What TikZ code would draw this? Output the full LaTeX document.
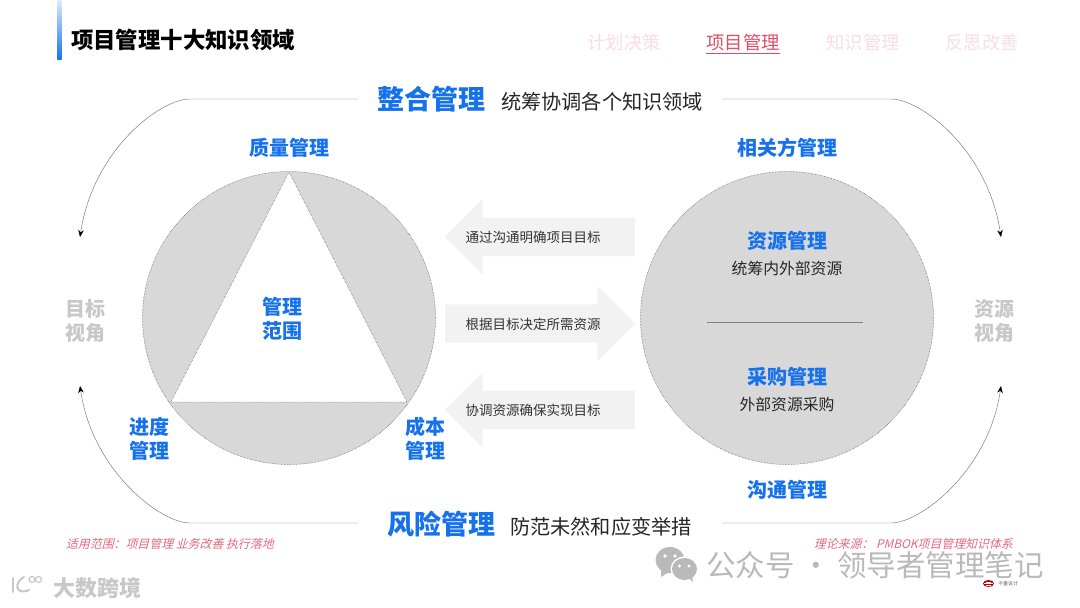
\documentclass[tikz,border=0pt]{standalone}
\usepackage{fontspec}
\setmainfont{Noto Sans CJK SC}
\usetikzlibrary{positioning,arrows.meta,shapes.arrows}
\definecolor{blueA}{RGB}{22,113,236}
\definecolor{redA}{RGB}{226,76,98}
\definecolor{pinkA}{RGB}{250,220,226}
\definecolor{greyA}{RGB}{216,216,216}
\definecolor{greyB}{RGB}{242,242,242}
\definecolor{greyC}{RGB}{200,200,200}
\definecolor{greyD}{RGB}{185,185,185}
\tikzset{
  blue head/.style={font=\bfseries\fontsize{20}{24}\selectfont,text=blueA,align=center,inner sep=0pt},
  big head/.style={font=\bfseries\fontsize{27}{32}\selectfont,text=blueA,inner sep=0pt},
  note/.style={font=\fontsize{20.2}{24}\selectfont,text=black!85,inner sep=0pt},
  inner note/.style={font=\fontsize{15.8}{18}\selectfont,text=black!85,inner sep=0pt},
  tab/.style={font=\fontsize{18.3}{22}\selectfont,text=pinkA,inner sep=0pt},
  view/.style={font=\bfseries\fontsize{20}{24}\selectfont,text=greyC,align=center,inner sep=0pt},
  small/.style={font=\fontsize{13.5}{16}\selectfont,text=black!80,inner sep=0pt},
  src/.style={font=\fontsize{11.9}{14}\selectfont,text=redA!85,inner sep=0pt,xslant=0.25},
  blk/.style={fill=greyB,draw=none,shape=single arrow,single arrow head extend=18.5,single arrow tip angle=90,minimum height=190,minimum width=75,inner xsep=0pt,inner ysep=19pt,single arrow head indent=0pt,anchor=tail},
  orbit/.style={line width=0.45pt,black!55,-{Stealth[length=7pt,width=5.5pt,black]}},
  ball/.style={circle,fill=greyA,draw=black!70,densely dotted,line width=0.5pt,minimum size=293,inner sep=0pt},
}
\begin{document}
\begin{tikzpicture}[x=1pt,y=-1pt]
\useasboundingbox (0,0) rectangle (1080,608);
\shade[top color=blueA!15,bottom color=blueA,rounded corners=1pt] (57,0) rectangle (62,60);
\node[font=\bfseries\fontsize{22.4}{26}\selectfont,inner sep=0pt] (title) at (183,40) {项目管理十大知识领域};
\node[tab] (tabA) at (624,43) {计划决策};
\node[tab,text=redA] (tabB) at (743,43) {项目管理};
\node[tab] (tabC) at (863,43) {知识管理};
\node[tab] (tabD) at (982,43) {反思改善};
\draw[redA,line width=0.6pt] (tabB.south west|-0,53.5) -- (tabB.south east|-0,53.5);

% top and bottom
\node[big head] (whole) at (431,99) {整合管理};
\node[note] (wholeN) at (602,102) {统筹协调各个知识领域};
\node[big head] (risk) at (441,524) {风险管理};
\node[note] (riskN) at (601,527) {防范未然和应变举措};

% left ball
\node[ball] (goalC) at (289,318) {};
\fill[white] (289,172) -- (171,402) -- (407,402) -- cycle;
\draw[densely dotted,line width=0.5pt,black!70] (289,172) -- (171,402) -- (407,402) -- cycle;
\node[blue head] (scope) at (282,318.5) {管理\\范围};
\node[blue head] (quality) at (289,148) {质量管理};
\node[blue head] (time) at (149,439) {进度\\管理};
\node[blue head] (cost) at (425,439) {成本\\管理};

% right ball
\node[ball] (viewC) at (787,318) {};
\node[blue head] (party) at (787,148) {相关方管理};
\node[blue head] (res) at (787,241) {资源管理};
\node[inner note] (resN) at (787,268.5) {统筹内外部资源};
\draw[line width=0.4pt,black!50] (707,322) -- (863,322);
\node[blue head] (buy) at (787,377) {采购管理};
\node[inner note] (buyN) at (787,404.5) {外部资源采购};
\node[blue head] (talk) at (787,490) {沟通管理};

% arrows in the middle
\node[blk,shape border rotate=180] (arrA) at (635,237) {};
\node[blk] (arrB) at (445,323.5) {};
\node[blk,shape border rotate=180] (arrC) at (635,410) {};
\node[small] (arrAt) at (533,237.5) {通过沟通明确项目目标};
\node[small] (arrBt) at (533,324) {根据目标决定所需资源};
\node[small] (arrCt) at (533,410.5) {协调资源确保实现目标};

% views
\node[view] (goalV) at (85,321) {目标\\视角};
\node[view] (resV) at (994,321) {资源\\视角};

% orbit lines
\coordinate (tl) at (358,99);
\coordinate (tr) at (722,99);
\coordinate (bl) at (358,523);
\coordinate (br) at (722,523);
\coordinate (el1) at (80,237);
\coordinate (el2) at (80,386);
\coordinate (er1) at (1001,237);
\coordinate (er2) at (1001,386);
\draw[orbit] (tl) -- (190,99) .. controls (160,99) and (93,150) .. (el1);
\draw[orbit] (bl) -- (190,523) .. controls (160,523) and (92,470) .. (el2);
\draw[orbit] (tr) -- (891,99) .. controls (921,99) and (988,150) .. (er1);
\draw[orbit] (br) -- (891,523) .. controls (921,523) and (989,470) .. (er2);

% sources
\node[src] (useN) at (171,544) {适用范围：项目管理 业务改善 执行落地};
\node[src] (fromN) at (914.5,544) {理论来源： PMBOK项目管理知识体系};

% watermarks
\fill[greyD] (670,560) ellipse (14.5 and 13);
\fill[greyD] (661,570) -- (661,577) -- (669,572) -- cycle;
\fill[white] (684.5,569) ellipse (14 and 12.5);
\fill[greyD] (684.5,569) ellipse (12.5 and 11);
\fill[greyD] (689,578) -- (693,582) -- (692,575) -- cycle;
\fill[white] (665,556) circle (1.8) (675,556) circle (1.8) (679.5,566) circle (1.6) (689,566) circle (1.6);
\node[font=\fontsize{29.5}{34}\selectfont,text=greyD,inner sep=0pt] (mark) at (875,565) {公众号 · 领导者管理笔记};
\node[font=\bfseries\fontsize{22}{26}\selectfont,text=greyC,inner sep=0pt] (markB) at (97,588) {大数跨境};
\draw[greyC,line width=2pt,line cap=round] (13,578) -- (13,592);
\draw[greyC,line width=2pt,line cap=round] (24,577) .. controls (14,582) and (15,596) .. (29,590);
\draw[greyC,line width=1.2pt] (32,579.5) circle (3) (38.5,579.5) circle (3);
\fill[red!70!black] (988.5,583.5) ellipse (5.5 and 3.5);
\draw[white,line width=0.4pt] (984,583.5) -- (993,583.5) (986,582) -- (991,582) (986,585) -- (991,585);
\node[font=\fontsize{5}{6}\selectfont,text=black!60,inner sep=0pt] (markC) at (1008,584) {今量设计};
\end{tikzpicture}
\end{document}
